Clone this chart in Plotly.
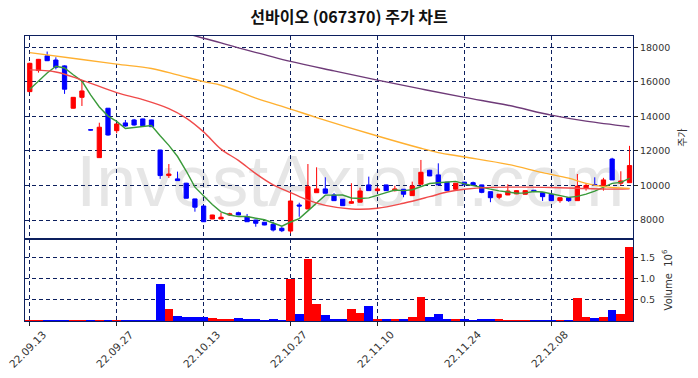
import plotly.graph_objects as go
import pandas as pd

# Trading days (KRX, 2022-09-13 .. 2022-12-21; Oct 3 and Oct 10 closed)
dates = [d.strftime("%y.%m.%d") for d in pd.bdate_range(
    "2022-09-13", "2022-12-21", freq="C", holidays=["2022-10-03", "2022-10-10"])]

opens = [15430, 16650, 17500, 17260, 16920, 14470, 15100, 13220, 11610, 14470,
         13170, 13620, 13790, 13850, 13790, 12050, 10570, 10380, 10130, 9220,
         8810, 8060, 8060, 8290, 8420, 8190, 8000, 7870, 7750, 7520,
         7360, 8870, 8640, 9580, 9800, 9450, 9200, 8970, 9030, 10030,
         9700, 10030, 9700, 9780, 9410, 10070, 10880, 10610, 10190, 9780,
         10190, 10160, 10030, 9640, 9315, 9450, 9510, 9490, 9720, 9580,
         9490, 9120, 9290, 9120, 9820, 10050, 9990, 11530, 10130, 10160]
highs = [17100, 17320, 17750, 17420, 16950, 15120, 16050, 13240, 13630, 14480,
         13570, 13790, 13850, 13870, 13800, 12060, 11240, 10800, 10150, 9230,
         8820, 8300, 8420, 8420, 8480, 8350, 8010, 7880, 7900, 7610,
         9550, 9000, 11240, 11050, 10470, 9560, 9210, 10130, 9870, 10510,
         9920, 10040, 9980, 9790, 10220, 11475, 10900, 11280, 10200, 10140,
         10200, 10220, 10040, 9650, 9500, 10070, 9720, 9720, 9730, 9590,
         9500, 9300, 9300, 10660, 10120, 10470, 10440, 11600, 10820, 12290]
lows = [15420, 16530, 17200, 16720, 15300, 14450, 14600, 13190, 11600, 12880,
        13020, 13400, 13460, 13440, 13390, 10380, 10430, 10270, 9250, 8480,
        7890, 8050, 8050, 8250, 8280, 7890, 7610, 7700, 7335, 7300,
        7230, 8190, 8630, 9570, 9540, 9110, 8820, 8940, 9020, 9690,
        9650, 9690, 9650, 9320, 9400, 10060, 10540, 10020, 9690, 9700,
        10020, 10020, 9550, 9030, 9200, 9440, 9500, 9480, 9650, 9100,
        9110, 9000, 9050, 9110, 9700, 9990, 9700, 10310, 10000, 10150]
closes = [17070, 17300, 17220, 16840, 15570, 15100, 15470, 13210, 13370, 12920,
          13560, 13440, 13500, 13460, 13400, 10570, 10660, 10280, 9260, 8740,
          7900, 8290, 8160, 8350, 8290, 7900, 7810, 7710, 7420, 7380,
          9100, 8810, 9930, 9800, 9550, 9120, 8830, 9060, 9680, 9700,
          9800, 9700, 9800, 9490, 9970, 10760, 10550, 10030, 9700, 10130,
          10030, 10030, 9600, 9290, 9490, 9680, 9700, 9700, 9660, 9350,
          9120, 9290, 9120, 9950, 10000, 10000, 10320, 10320, 10260, 11150]
volumes = [15000, 15000, 10000, 10000, 10000, 15000, 15000, 10000, 15000, 10000,
           15000, 10000, 10000, 10000, 10000, 880000, 280000, 110000, 85000, 85000,
           85000, 60000, 35000, 35000, 60000, 40000, 40000, 15000, 40000, 15000,
           1010000, 170000, 1480000, 410000, 150000, 50000, 50000, 290000, 200000, 350000,
           50000, 50000, 35000, 50000, 100000, 565000, 85000, 155000, 50000, 35000,
           35000, 15000, 35000, 35000, 35000, 15000, 15000, 15000, 10000, 10000,
           10000, 15000, 15000, 550000, 85000, 65000, 85000, 250000, 155000, 1770000]

# Moving averages
ma5 = [15570, 16050, 16510, 16900, 16800, 16406, 16040, 15238, 14544, 14014,
       13706, 13300, 13358, 13376, 13472, 12874, 12318, 11674, 10834, 9902,
       9368, 8894, 8470, 8288, 8198, 8198, 8102, 8012, 7826, 7644,
       7884, 8084, 8528, 9004, 9438, 9442, 9446, 9272, 9248, 9278,
       9414, 9588, 9736, 9698, 9752, 9944, 10114, 10160, 10202, 10234,
       10088, 9984, 9898, 9816, 9688, 9618, 9552, 9572, 9646, 9618,
       9506, 9424, 9308, 9366, 9496, 9672, 9878, 10118, 10180, 10410]
ma20_idx = [0, 3, 6, 10, 13, 16, 18, 20, 22, 24, 26, 28, 30, 32, 34, 37, 40, 43, 46, 48, 50, 53, 57, 60, 63, 66, 69]
ma20_val = [16690, 16570, 16100, 15370, 14970, 14450, 13900, 13100, 12100, 11450, 10680, 10030, 9590, 9150,
            8850, 8640, 8680, 8970, 9350, 9620, 9780, 9890, 9900, 9880, 9840, 9790, 9810]
ma60_idx = [0, 6, 10, 14, 17, 20, 22, 24, 26, 30, 33, 40, 45, 47, 50, 55, 59, 62, 64, 66, 69]
ma60_val = [17690, 17290, 17020, 16770, 16400, 16010, 15800, 15440, 15050, 14420, 13930, 12860, 12150,
            11900, 11650, 11220, 10740, 10420, 10120, 9930, 9830]
ma120_idx = [18, 20, 22, 24, 27, 30, 35, 40, 45, 50, 55, 60, 64, 69]
ma120_val = [18800, 18520, 18250, 17960, 17570, 17180, 16630, 16100, 15590, 15100, 14640, 14070, 13720, 13400]

x = list(range(len(dates)))
up_color = "#ff0000"
down_color = "#0000ff"
navy = "#0c1f5e"
label_color = "#333333"

fig = go.Figure()
fig.add_trace(go.Candlestick(
    x=x, open=opens, high=highs, low=lows, close=closes,
    increasing=dict(line=dict(color=up_color, width=1), fillcolor=up_color),
    decreasing=dict(line=dict(color=down_color, width=1), fillcolor=down_color),
    whiskerwidth=0, xaxis="x", yaxis="y", hoverinfo="skip"))

fig.add_trace(go.Scatter(x=x, y=ma5, mode="lines",
                         line=dict(color="#3a9a3a", width=1.4), xaxis="x", yaxis="y"))
fig.add_trace(go.Scatter(x=ma20_idx, y=ma20_val, mode="lines",
                         line=dict(color="#f04a4a", width=1.4, shape="spline"), xaxis="x", yaxis="y"))
fig.add_trace(go.Scatter(x=ma60_idx, y=ma60_val, mode="lines",
                         line=dict(color="#ffb030", width=1.4, shape="spline"), xaxis="x", yaxis="y"))
fig.add_trace(go.Scatter(x=ma120_idx, y=ma120_val, mode="lines",
                         line=dict(color="#6e3a78", width=1.4, shape="spline"), xaxis="x", yaxis="y"))

vol_colors = [up_color if c > o else down_color for o, c in zip(opens, closes)]
fig.add_trace(go.Bar(x=x, y=[v / 1e6 for v in volumes], marker=dict(color=vol_colors, line=dict(width=0)),
                     xaxis="x2", yaxis="y2", hoverinfo="skip"))

split = (321 - 239) / 285
grid = dict(showgrid=True, gridcolor=navy, griddash="4px,3px", gridwidth=1,
            showline=True, mirror=True, linecolor=navy, linewidth=1.2, zeroline=False,
            automargin=False)
tick_idx = x[::10]

# rotated date labels centred under their ticks
date_labels = [dict(x=i, y=-0.098, xref="x2", yref="paper", text=dates[i], showarrow=False,
                    textangle=-45, xanchor="center", yanchor="middle", xshift=-2,
                    font=dict(family="DejaVu Sans", size=10.5, color=label_color))
               for i in tick_idx]

fig.update_layout(
    width=698, height=378,
    margin=dict(l=25, r=65, t=36, b=57, autoexpand=False),
    paper_bgcolor="white", plot_bgcolor="white",
    showlegend=False, bargap=0,
    title=dict(text="선바이오 (067370) 주가 차트", x=0.5, xanchor="center", y=0.953, yanchor="middle",
               font=dict(family="Noto Sans CJK KR", size=16, color="#111", weight=600), automargin=False),
    xaxis=dict(domain=[0, 1], anchor="y", range=[-0.55, 69.4], tickmode="array", tickvals=tick_idx,
               showticklabels=False, ticks="", rangeslider=dict(visible=False), **grid),
    xaxis2=dict(domain=[0, 1], anchor="y2", range=[-0.55, 69.4], tickmode="array", tickvals=tick_idx,
                showticklabels=False, ticks="outside", ticklen=4, tickcolor="#222", **grid),
    yaxis=dict(domain=[split, 1], anchor="x", side="right", range=[6900, 18650], tickmode="array",
               tickvals=list(range(8000, 18001, 2000)), ticktext=[str(v) for v in range(8000, 18001, 2000)],
               ticks="outside", ticklen=4, tickcolor="#222",
               tickfont=dict(family="DejaVu Sans", size=9.5, color=label_color),
               title=dict(text="주가", font=dict(family="Noto Sans CJK KR", size=10, color=label_color),
                          standoff=9),
               **grid),
    yaxis2=dict(domain=[0, split], anchor="x2", side="right", range=[0, 1.95], tickmode="array",
                tickvals=[0.5, 1.0, 1.5], ticktext=["0.5", "1.0", "1.5"], ticks="outside", ticklen=4,
                tickcolor="#222", tickfont=dict(family="DejaVu Sans", size=9.5, color=label_color),
                title=dict(text="Volume  10<sup>6</sup>", font=dict(family="DejaVu Sans", size=10, color=label_color),
                           standoff=10),
                **grid),
    annotations=date_labels,
    shapes=[dict(type="rect", xref="paper", yref="paper", x0=0.09, x1=0.98, y0=0.416, y1=0.616,
                 line=dict(width=0), fillcolor="rgba(0,0,0,0)", layer="below",
                 label=dict(text="InvestAxiom.com", textposition="middle center",
                            font=dict(family="Liberation Sans", size=72, color="#e6e6e6")))],
)

fig.write_html("out.html", config={"displayModeBar": False},
               post_script="document.body.style.margin='0px';")
